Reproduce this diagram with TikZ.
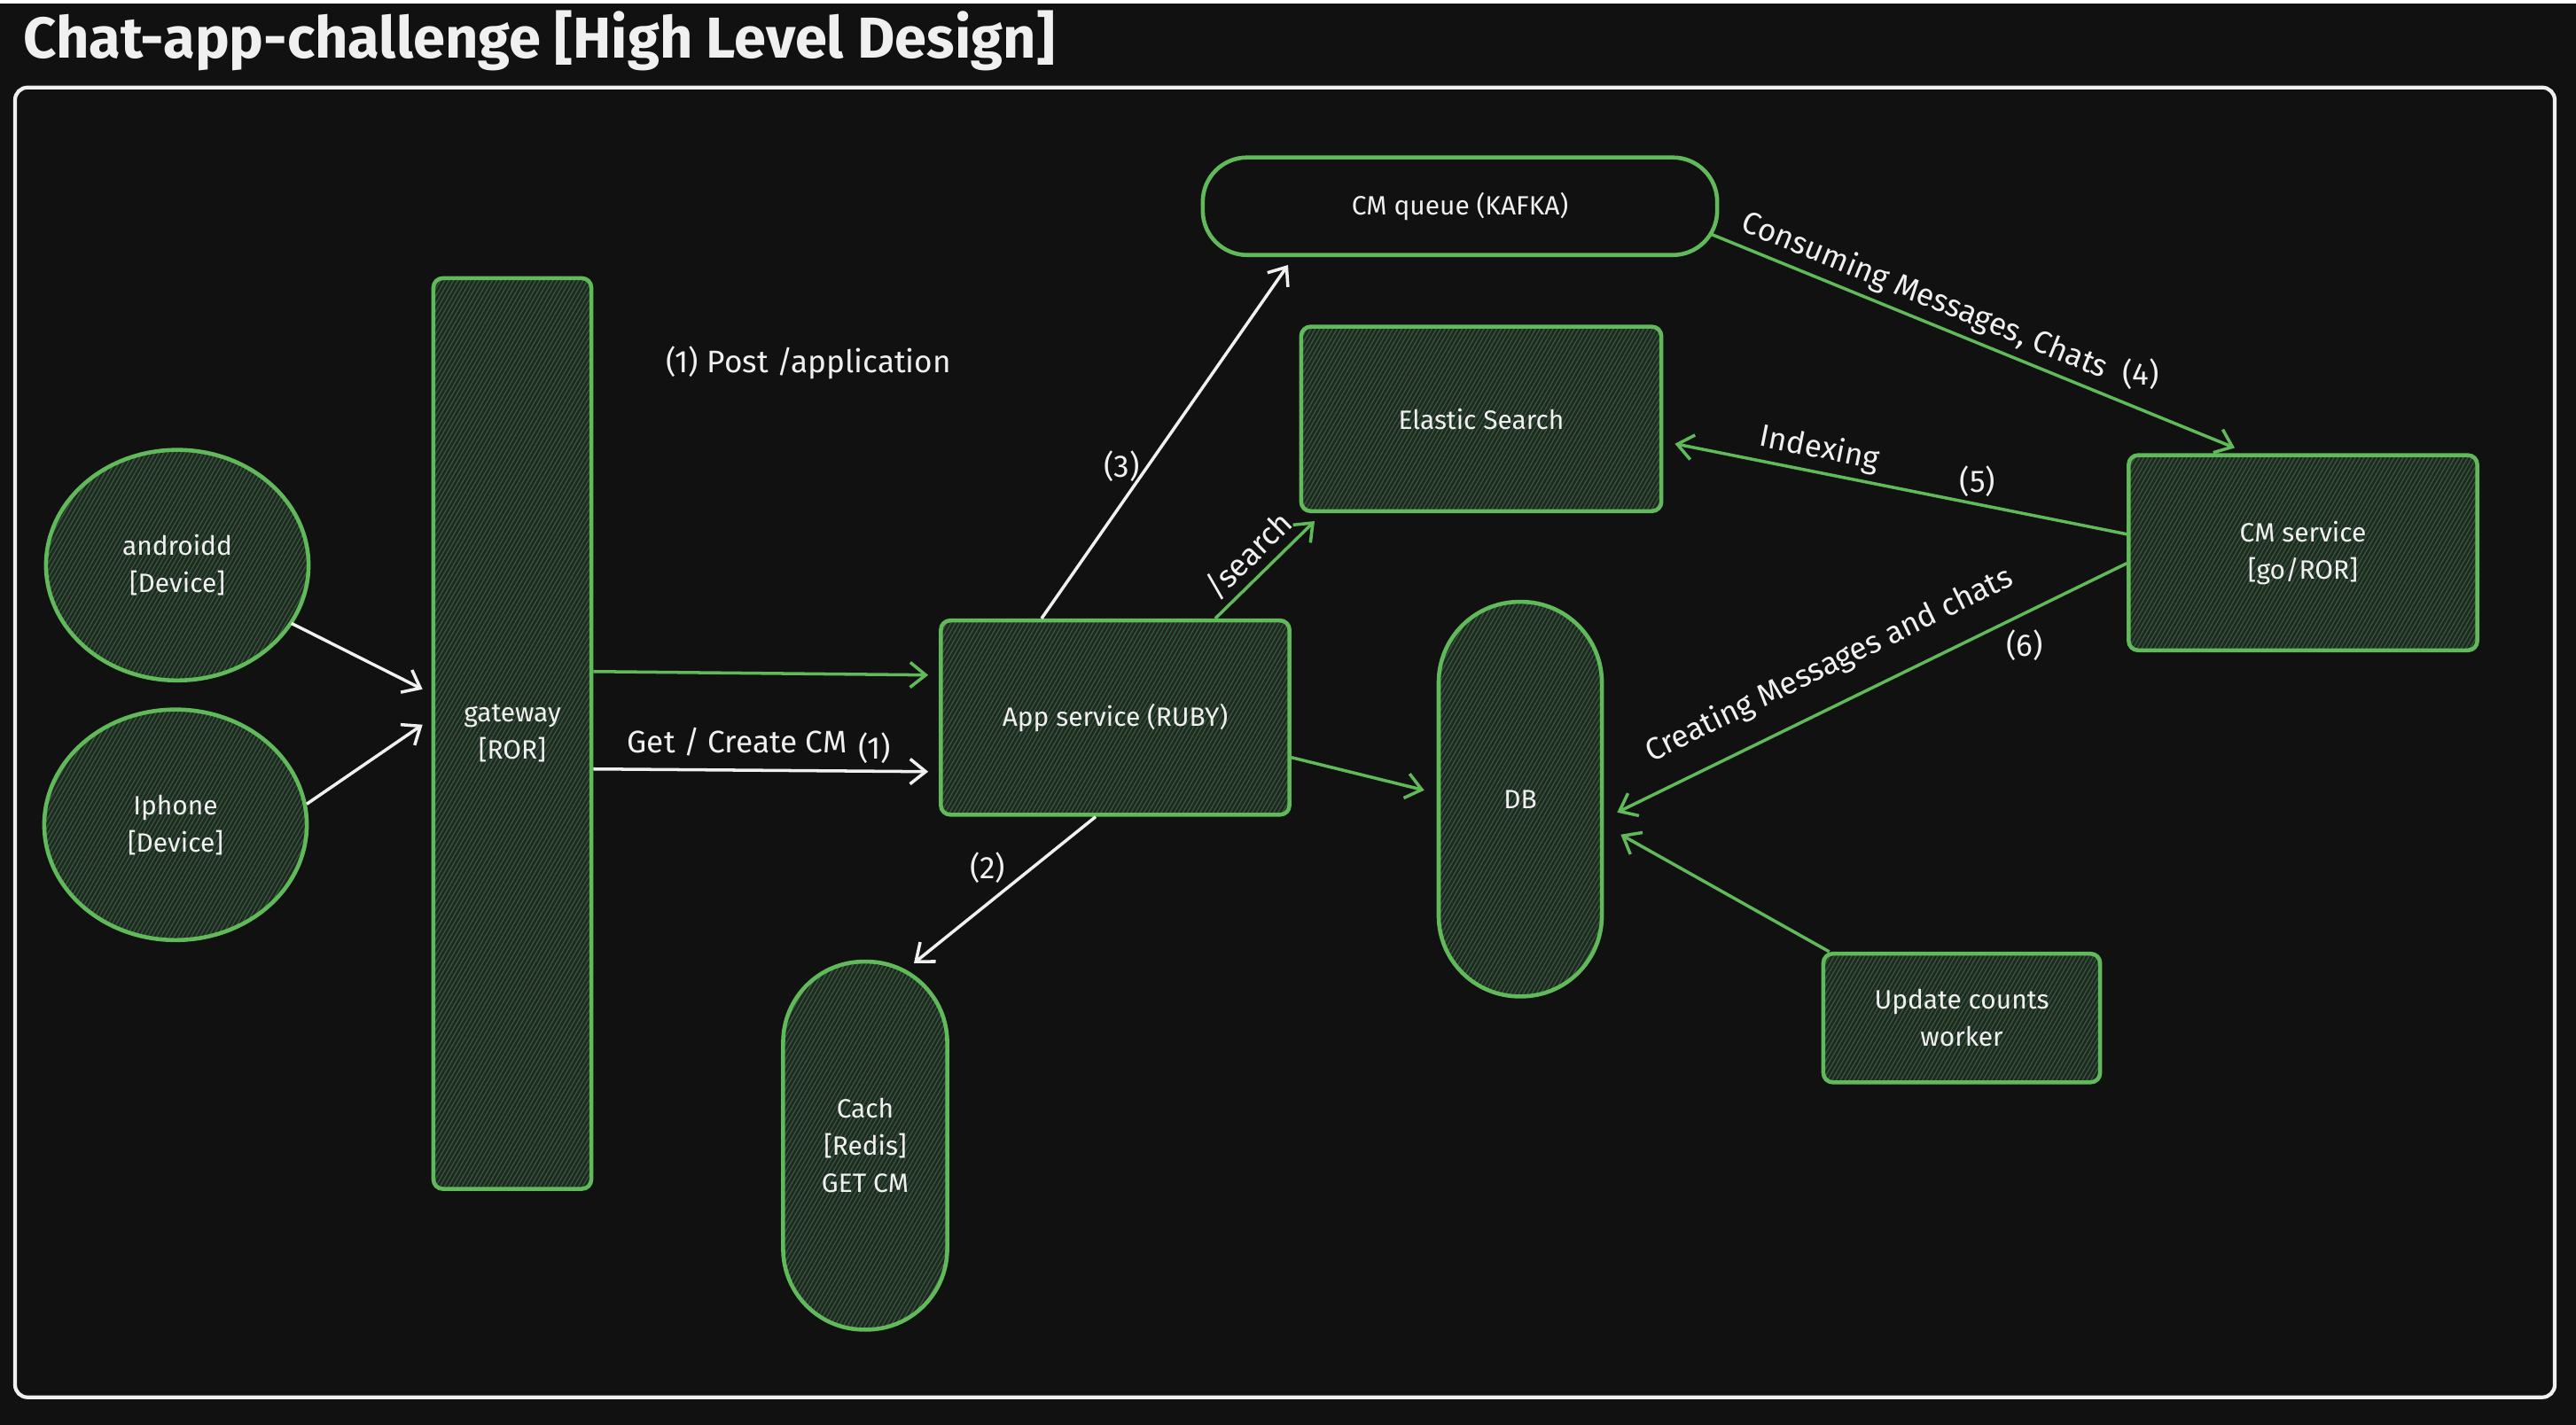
\documentclass[tikz,border=0pt]{standalone}
\usepackage{fontspec}
\setmainfont{Fira Sans}
\usepackage{xcolor}
\usetikzlibrary{arrows.meta}
\usetikzlibrary{patterns.meta}
\usetikzlibrary{positioning}
\usetikzlibrary{calc}
\usetikzlibrary{shapes.geometric}

\definecolor{bgcol}{RGB}{17,17,17}
\definecolor{boxgreen}{RGB}{97,186,90}
\definecolor{hatchgreen}{RGB}{48,90,50}
\definecolor{boxfill}{RGB}{34,37,38}
\definecolor{inkwhite}{RGB}{240,240,240}

\tikzset{
  comp/.style={draw=boxgreen, line width=1.3pt, text=inkwhite, align=center,
    font=\fontsize{8.5}{12}\selectfont, inner sep=0pt,
    preaction={fill=boxfill}, pattern={Lines[angle=60,distance=1.2pt,line width=0.4pt]},
    pattern color=hatchgreen},
  box/.style={comp, rectangle, rounded corners=3pt},
  blob/.style={comp, ellipse},
  pill/.style={comp, rectangle, rounded corners=#1},
  queue/.style={draw=boxgreen, line width=1.3pt, text=inkwhite, rectangle, rounded corners=0.5cm,
    font=\fontsize{8.5}{12}\selectfont},
  garrow/.style={draw=boxgreen, line width=1pt, -{Straight Barb[length=5pt,width=8pt]}},
  warrow/.style={draw=inkwhite, line width=1pt, -{Straight Barb[length=5pt,width=8pt]}},
  lbl/.style={text=inkwhite, font=\fontsize{10}{12}\selectfont, inner sep=2pt}
}

\begin{document}
\begin{tikzpicture}[x=0.01cm, y=-0.01cm]
  %background and frame
  \fill[bgcol] (0,0) rectangle (2906,1604);
  \draw[inkwhite, line width=1.2pt, rounded corners=4pt] (17,95) rectangle (2882,1573);
  \node[anchor=west, text=inkwhite, font=\fontsize{18.5}{22}\bfseries\selectfont] (title) at (14,42) {Chat-app-challenge [High Level Design]};

  % devices and gateway
  \node[blob, minimum width=2.96cm, minimum height=2.6cm] (android) at (200,634) {androidd\\{[Device]}};
  \node[blob, minimum width=2.96cm, minimum height=2.6cm] (iphone) at (198,927) {Iphone\\{[Device]}};
  \node[box, minimum width=1.78cm, minimum height=10.27cm] (gateway) at (578,824) {gateway\\{[ROR]}};

  % services
  \node[box, minimum width=3.93cm, minimum height=2.19cm] (appsvc) at (1258,806) {App service (RUBY)};
  \node[queue, minimum width=5.8cm, minimum height=1.1cm] (kafka) at (1647,229) {CM queue (KAFKA)};
  \node[box, minimum width=4.06cm, minimum height=2.08cm] (elastic) at (1671,469) {Elastic Search};
  \node[box, minimum width=3.93cm, minimum height=2.2cm] (cmsvc) at (2598,620) {CM service\\{[go/ROR]}};
  \node[box, minimum width=3.12cm, minimum height=1.45cm] (worker) at (2213,1145) {Update counts\\worker};

  % storage
  \node[pill=0.91cm, minimum width=1.84cm, minimum height=4.45cm] (db) at (1715,898) {DB};
  \node[pill=0.91cm, minimum width=1.85cm, minimum height=4.15cm] (cache) at (976,1289) {Cach\\{[Redis]}\\GET CM};

  \node[lbl] (postlbl) at (912,406) {(1) Post /application};

  % add arrows
  \draw[warrow] (android.-27) -- ($(gateway.west)+(-10,-50)$);
  \draw[warrow] (iphone.9) -- ($(gateway.west)+(-10,-10)$);
  \draw[garrow] ($(gateway.east)+(0,-70)$) -- ($(appsvc.west)+(-12,-48)$);
  \draw[warrow] ($(gateway.east)+(0,40)$) -- ($(appsvc.west)+(-12,61)$)
    node[lbl, pos=0.43, above=2pt] {Get / Create CM} node[lbl, pos=0.84, above] {(1)};
  \draw[warrow] ($(appsvc.north)+(-83,0)$) -- ($(kafka.south)+(-194,9)$) node[lbl, pos=0.43, left] {(3)};
  \draw[garrow] ($(appsvc.north)+(113,0)$) -- ($(elastic.south)+(-188,9)$) node[lbl, pos=0.49, sloped, above] {/search};
  \draw[garrow] ($(appsvc.east)+(0,45)$) -- ($(db.west)+(-14,-10)$);
  \draw[warrow] ($(appsvc.south)+(-22,0)$) -- ($(cache.north)+(55,4)$) node[lbl, pos=0.35, left=6pt] {(2)};
  \draw[garrow] ($(kafka.east)+(-8,32)$) -- ($(cmsvc.north)+(-77,-6)$)
    node[lbl, pos=0.39, sloped, above] {Consuming Messages, Chats} node[lbl, pos=0.82, above=4pt] {(4)};
  \draw[garrow] ($(cmsvc.west)+(0,-21)$) -- ($(elastic.east)+(13,28)$)
    node[lbl, pos=0.69, sloped, above] {Indexing} node[lbl, pos=0.33, above] {(5)};
  \draw[garrow] ($(cmsvc.west)+(0,12)$) -- ($(db.east)+(15,15)$)
    node[lbl, pos=0.55, sloped, above=5pt] {Creating Messages and chats} node[lbl, pos=0.2, below=3pt] {(6)};
  \draw[garrow] ($(worker.north west)+(9,0)$) -- ($(db.east)+(19,40)$);
\end{tikzpicture}
\end{document}
